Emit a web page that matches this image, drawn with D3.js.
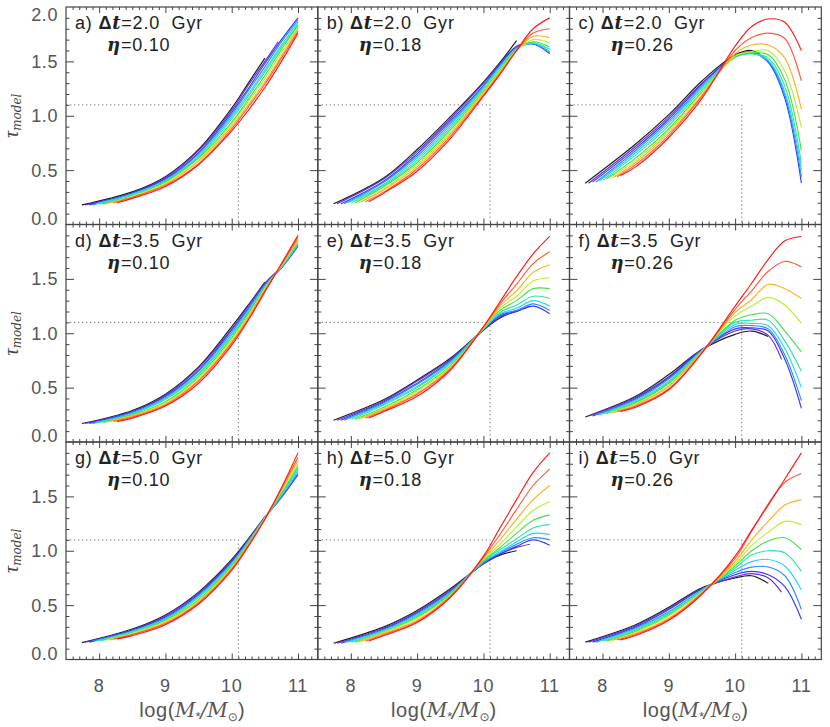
<!DOCTYPE html>
<html><head><meta charset="utf-8">
<script src="https://cdn.jsdelivr.net/npm/d3@7"></script>
<style>body{margin:0;background:#fff} svg{display:block}</style>
</head><body>
<svg id="c" width="830" height="727"></svg>
<script>
// grid of log(M*/Msun) values at which each curve is sampled (after its own start point)
const xGrid = [8.5, 9.0, 9.5, 10.0, 10.25, 10.5, 10.75, 11.0];
const startX = [7.74, 7.79, 7.85, 7.90, 7.95, 8.01, 8.06, 8.11, 8.16, 8.22, 8.27];
const endX = [10.5, 10.7, 11, 11, 11, 11, 11, 11, 11, 11, 11];
const colors = ['#1e1e1e', '#6a2bd0', '#3838ff', '#2f8cff', '#22d6f0', '#30e6a0',
                '#44e044', '#b8f030', '#ffb020', '#ff5a3c', '#ff1a1a'];
const panelLetters = ['a', 'b', 'c', 'd', 'e', 'f', 'g', 'h', 'i'];
const deltaT = ['2.0', '2.0', '2.0', '3.5', '3.5', '3.5', '5.0', '5.0', '5.0'];
const etaVals = ['0.10', '0.18', '0.26', '0.10', '0.18', '0.26', '0.10', '0.18', '0.26'];
const xTicks = [8, 9, 10, 11];
const yTicks = [0, 0.5, 1.0, 1.5, 2.0];

// each row: [y at start, y at 8.5, 9.0, 9.5, 10.0, 10.25, 10.5, 10.75, 11.0]
const panelA = [
 [0.18,0.30,0.44,0.69,1.07,1.30,1.53,null,null],
 [0.18,0.29,0.43,0.68,1.05,1.28,1.50,1.68,null],
 [0.18,0.29,0.42,0.66,1.03,1.25,1.48,1.70,1.90],
 [0.18,0.28,0.41,0.65,1.01,1.23,1.45,1.68,1.88],
 [0.19,0.28,0.40,0.63,0.99,1.20,1.42,1.65,1.86],
 [0.19,0.27,0.40,0.62,0.97,1.18,1.40,1.63,1.84],
 [0.19,0.26,0.39,0.61,0.94,1.15,1.37,1.61,1.83],
 [0.19,0.26,0.38,0.59,0.92,1.13,1.34,1.58,1.81],
 [0.20,0.25,0.37,0.58,0.90,1.10,1.31,1.55,1.80],
 [0.20,0.25,0.36,0.56,0.88,1.08,1.29,1.53,1.78],
 [0.20,0.24,0.35,0.55,0.86,1.05,1.26,1.50,1.76]];
const panelB = [
 [0.19,0.43,0.69,0.99,1.31,1.49,1.69,null,null],
 [0.19,0.42,0.67,0.97,1.30,1.48,1.64,1.67,null],
 [0.19,0.40,0.65,0.95,1.28,1.47,1.63,1.66,1.57],
 [0.19,0.39,0.63,0.93,1.27,1.46,1.62,1.66,1.58],
 [0.20,0.37,0.61,0.91,1.26,1.45,1.62,1.67,1.59],
 [0.20,0.36,0.59,0.89,1.25,1.44,1.61,1.67,1.61],
 [0.20,0.35,0.57,0.87,1.23,1.42,1.61,1.68,1.63],
 [0.20,0.33,0.55,0.85,1.22,1.41,1.60,1.70,1.67],
 [0.21,0.32,0.53,0.83,1.21,1.40,1.60,1.73,1.72],
 [0.21,0.30,0.51,0.81,1.19,1.39,1.60,1.76,1.80],
 [0.21,0.29,0.49,0.79,1.18,1.38,1.60,1.80,1.90]];
const panelC = [
 [0.38,0.74,1.01,1.32,1.56,1.60,1.50,null,null],
 [0.38,0.72,0.99,1.30,1.55,1.59,1.50,1.28,null],
 [0.39,0.70,0.97,1.29,1.55,1.58,1.49,1.16,0.38],
 [0.39,0.68,0.95,1.27,1.54,1.58,1.50,1.19,0.44],
 [0.40,0.66,0.93,1.26,1.54,1.57,1.51,1.22,0.50],
 [0.41,0.64,0.91,1.24,1.54,1.57,1.53,1.27,0.56],
 [0.42,0.61,0.88,1.22,1.54,1.58,1.56,1.33,0.68],
 [0.43,0.59,0.86,1.21,1.55,1.59,1.60,1.41,0.89],
 [0.43,0.57,0.84,1.19,1.57,1.65,1.65,1.53,1.06],
 [0.44,0.55,0.82,1.18,1.60,1.72,1.76,1.71,1.32],
 [0.45,0.53,0.80,1.16,1.64,1.82,1.89,1.86,1.60]];
const panelD = [
 [0.17,0.29,0.44,0.69,1.06,1.26,1.47,null,null],
 [0.17,0.28,0.43,0.68,1.04,1.25,1.46,1.58,null],
 [0.17,0.28,0.42,0.66,1.03,1.23,1.45,1.60,1.80],
 [0.17,0.27,0.41,0.65,1.01,1.22,1.44,1.60,1.81],
 [0.18,0.26,0.40,0.63,0.99,1.20,1.43,1.61,1.82],
 [0.18,0.26,0.39,0.62,0.98,1.19,1.43,1.61,1.83],
 [0.18,0.25,0.37,0.60,0.96,1.18,1.42,1.62,1.84],
 [0.18,0.24,0.36,0.59,0.94,1.16,1.41,1.62,1.85],
 [0.19,0.24,0.35,0.57,0.92,1.15,1.40,1.63,1.86],
 [0.19,0.23,0.34,0.56,0.91,1.13,1.39,1.63,1.88],
 [0.19,0.22,0.33,0.54,0.89,1.12,1.38,1.64,1.90]];
const panelE = [
 [0.20,0.39,0.57,0.77,1.03,1.14,1.21,null,null],
 [0.20,0.38,0.56,0.76,1.03,1.15,1.20,1.25,null],
 [0.20,0.37,0.54,0.75,1.03,1.16,1.20,1.25,1.18],
 [0.20,0.36,0.53,0.74,1.04,1.17,1.21,1.27,1.21],
 [0.21,0.35,0.51,0.73,1.04,1.18,1.23,1.30,1.25],
 [0.21,0.34,0.50,0.72,1.04,1.19,1.26,1.34,1.32],
 [0.21,0.32,0.48,0.70,1.05,1.21,1.30,1.41,1.41],
 [0.21,0.31,0.47,0.69,1.05,1.23,1.34,1.48,1.51],
 [0.22,0.30,0.45,0.68,1.05,1.25,1.39,1.56,1.63],
 [0.22,0.29,0.44,0.67,1.06,1.27,1.45,1.64,1.75],
 [0.22,0.28,0.42,0.66,1.06,1.29,1.52,1.73,1.89]];
const panelF = [
 [0.23,0.42,0.62,0.85,0.99,1.02,0.97,null,null],
 [0.24,0.41,0.60,0.85,1.02,1.04,0.98,0.76,null],
 [0.24,0.40,0.59,0.85,1.04,1.05,1.02,0.76,0.31],
 [0.25,0.39,0.58,0.84,1.06,1.07,1.04,0.80,0.38],
 [0.25,0.38,0.56,0.84,1.08,1.09,1.07,0.86,0.50],
 [0.26,0.37,0.55,0.84,1.10,1.12,1.12,0.93,0.65],
 [0.26,0.36,0.54,0.83,1.12,1.17,1.18,1.02,0.83],
 [0.27,0.35,0.52,0.83,1.16,1.25,1.33,1.26,1.09],
 [0.27,0.34,0.51,0.83,1.19,1.31,1.45,1.41,1.32],
 [0.28,0.33,0.49,0.82,1.22,1.39,1.57,1.66,1.61],
 [0.28,0.32,0.48,0.82,1.25,1.46,1.68,1.85,1.89]];
const panelG = [
 [0.155,0.28,0.41,0.62,0.92,1.11,1.31,null,null],
 [0.16,0.27,0.40,0.61,0.91,1.10,1.31,1.45,null],
 [0.16,0.27,0.39,0.60,0.90,1.10,1.31,1.49,1.70],
 [0.17,0.26,0.38,0.59,0.89,1.09,1.30,1.50,1.72],
 [0.17,0.26,0.37,0.58,0.88,1.08,1.30,1.51,1.74],
 [0.17,0.25,0.37,0.57,0.87,1.08,1.30,1.52,1.76],
 [0.18,0.24,0.36,0.55,0.86,1.07,1.30,1.53,1.78],
 [0.18,0.24,0.35,0.54,0.85,1.06,1.30,1.55,1.80],
 [0.18,0.23,0.34,0.53,0.84,1.06,1.29,1.56,1.83],
 [0.19,0.23,0.33,0.52,0.83,1.05,1.29,1.57,1.86],
 [0.19,0.22,0.32,0.51,0.82,1.04,1.29,1.58,1.90]];
const panelH = [
 [0.15,0.30,0.45,0.65,0.88,0.96,1.00,null,null],
 [0.15,0.29,0.44,0.64,0.88,0.97,1.03,1.06,null],
 [0.15,0.28,0.43,0.63,0.89,0.97,1.04,1.10,1.05],
 [0.16,0.27,0.42,0.62,0.89,0.98,1.06,1.12,1.10],
 [0.16,0.27,0.41,0.61,0.90,0.99,1.08,1.16,1.15],
 [0.16,0.26,0.40,0.61,0.91,1.01,1.11,1.21,1.24],
 [0.16,0.25,0.39,0.60,0.91,1.03,1.16,1.28,1.33],
 [0.16,0.25,0.38,0.59,0.92,1.06,1.22,1.37,1.45],
 [0.17,0.24,0.36,0.58,0.93,1.10,1.29,1.47,1.60],
 [0.17,0.23,0.35,0.58,0.94,1.15,1.38,1.60,1.75],
 [0.17,0.22,0.34,0.57,0.95,1.21,1.47,1.72,1.90]];
const panelI = [
 [0.16,0.32,0.48,0.66,0.75,0.77,0.70,null,null],
 [0.16,0.31,0.47,0.65,0.76,0.79,0.75,0.62,null],
 [0.16,0.30,0.46,0.65,0.78,0.81,0.78,0.67,0.37],
 [0.16,0.29,0.44,0.64,0.80,0.85,0.85,0.77,0.46],
 [0.17,0.28,0.43,0.64,0.82,0.90,0.92,0.86,0.64],
 [0.17,0.27,0.42,0.63,0.84,0.96,1.00,0.98,0.81],
 [0.17,0.26,0.41,0.62,0.86,1.00,1.09,1.12,1.01],
 [0.17,0.25,0.40,0.62,0.88,1.05,1.17,1.27,1.24],
 [0.18,0.24,0.38,0.61,0.90,1.10,1.27,1.42,1.47],
 [0.18,0.23,0.37,0.61,0.93,1.18,1.43,1.63,1.71],
 [0.18,0.22,0.36,0.60,0.95,1.19,1.42,1.66,1.90]];

const panels = [panelA, panelB, panelC, panelD, panelE, panelF, panelG, panelH, panelI];

const W = 251.9, H = 217.5;
const colLeft = [66, 317.7, 569.4];
const rowTop = [7, 224.5, 442];
const SANS = '"Liberation Sans", Arial, sans-serif';
const SERIF = '"DejaVu Serif", "Liberation Serif", serif';
const svg = d3.select('#c');

const minorX = d3.range(76, 113).filter(v => v % 10 !== 0).map(v => v / 10);
const minorY = d3.range(1, 20).filter(v => v % 5 !== 0).map(v => v / 10);
const majorYInner = [0.5, 1.0, 1.5];

function cleanAxis(sel) { sel.select('.domain').remove(); sel.selectAll('line').attr('stroke', '#444').attr('stroke-width', 1); }

panels.forEach((data, p) => {
  const r = Math.floor(p / 3), c = p % 3;
  const x = d3.scaleLinear().domain([7.5, 11.3]).range([colLeft[c], colLeft[c] + W]);
  const y = d3.scaleLinear().domain([0, 2]).range([rowTop[r] + H, rowTop[r]]);
  const g = svg.append('g');

  // dotted reference lines
  g.append('path')
    .attr('d', `M${x(7.5)},${y(1.1)}H${x(10.1)}V${y(0)}`)
    .attr('fill', 'none').attr('stroke', '#777').attr('stroke-width', 1)
    .attr('stroke-dasharray', '1.3,2.7');

  // curves
  const line = d3.line().x(d => x(d[0])).y(d => y(d[1])).curve(d3.curveCatmullRom.alpha(0.5));
  data.forEach((vals, k) => {
    const pts = [[startX[k], vals[0]]];
    xGrid.forEach((gx, i) => {
      const v = vals[i + 1];
      if (v !== null && v !== undefined) pts.push([Math.min(gx, endX[k]), v]);
    });
    g.append('path').attr('d', line(pts)).attr('fill', 'none')
      .attr('stroke', colors[k]).attr('stroke-width', 1.15);
  });

  // ticks on four sides (inward)
  const bottom = g.append('g').attr('transform', `translate(0,${y(0)})`);
  bottom.append('g').call(d3.axisBottom(x).tickValues(minorX).tickSize(-3).tickFormat('')).call(cleanAxis);
  bottom.append('g').call(d3.axisBottom(x).tickValues(xTicks).tickSize(-6).tickFormat('')).call(cleanAxis);
  const top = g.append('g').attr('transform', `translate(0,${y(2)})`);
  top.append('g').call(d3.axisTop(x).tickValues(minorX).tickSize(-3).tickFormat('')).call(cleanAxis);
  top.append('g').call(d3.axisTop(x).tickValues(xTicks).tickSize(-6).tickFormat('')).call(cleanAxis);
  const left = g.append('g').attr('transform', `translate(${x(7.5)},0)`);
  left.append('g').call(d3.axisLeft(y).tickValues(minorY).tickSize(-3.5).tickFormat('')).call(cleanAxis);
  left.append('g').call(d3.axisLeft(y).tickValues(majorYInner).tickSize(-8).tickFormat('')).call(cleanAxis);
  const right = g.append('g').attr('transform', `translate(${x(11.3)},0)`);
  right.append('g').call(d3.axisRight(y).tickValues(minorY).tickSize(-3.5).tickFormat('')).call(cleanAxis);
  right.append('g').call(d3.axisRight(y).tickValues(majorYInner).tickSize(-8).tickFormat('')).call(cleanAxis);

  // frame
  g.append('rect').attr('x', x(7.5)).attr('y', y(2)).attr('width', x(11.3) - x(7.5)).attr('height', y(0) - y(2))
    .attr('fill', 'none').attr('stroke', '#444').attr('stroke-width', 1.2);

  // y tick labels (left column)
  if (c === 0) {
    yTicks.filter(v => r === 0 || v < 2).forEach(v => {
      const off = v === 0 ? -6 : (v === 2 ? 8 : 0);
      g.append('text').attr('x', x(7.5) - 8).attr('y', y(v) + off).attr('dy', '0.36em')
        .attr('text-anchor', 'end').attr('font-family', SANS).attr('font-size', 18)
        .attr('letter-spacing', 0.6).attr('fill', '#555').text(d3.format('.1f')(v));
    });
  }
  // x tick labels (bottom row)
  if (r === 2) {
    xTicks.forEach(v => {
      g.append('text').attr('x', x(v)).attr('y', y(0) + 32).attr('text-anchor', 'middle')
        .attr('font-family', SANS).attr('font-size', 18).attr('letter-spacing', 0.6)
        .attr('fill', '#555').text(v);
    });
    const t = g.append('text').attr('x', (x(7.5) + x(11.3)) / 2).attr('y', 717)
      .attr('text-anchor', 'middle').attr('font-family', SANS).attr('font-size', 20).attr('fill', '#555');
    t.append('tspan').attr('letter-spacing', 0.6).text('log(');
    t.append('tspan').attr('font-family', SERIF).attr('font-style', 'italic').text('M');
    t.append('tspan').attr('font-size', 13).attr('dy', 4).text('*');
    t.append('tspan').attr('font-family', SERIF).attr('font-style', 'italic').attr('dy', -4).text('/');
    t.append('tspan').attr('font-family', SERIF).attr('font-style', 'italic').text('M');
    t.append('tspan').attr('font-family', '"DejaVu Sans", sans-serif').attr('font-size', 12).attr('dy', 4).text('⊙');
    t.append('tspan').attr('dy', -4).text(')');
  }
  // y title (each row)
  if (c === 0) {
    const cy = (y(0) + y(2)) / 2;
    const t = g.append('text').attr('transform', `translate(18,${cy}) rotate(-90)`)
      .attr('text-anchor', 'middle').attr('fill', '#444');
    t.append('tspan').attr('font-family', '"Liberation Serif", serif').attr('font-style', 'italic')
      .attr('font-size', 20).text('τ');
    t.append('tspan').attr('font-family', SERIF).attr('font-style', 'italic').attr('font-size', 12)
      .attr('dy', 3).text('model');
  }

  // panel annotation
  const a1 = g.append('text').attr('x', x(7.5) + 9).attr('y', y(2) + 22)
    .attr('font-family', SANS).attr('font-size', 18).attr('fill', '#222')
    .attr('letter-spacing', 0.8).style('white-space', 'pre');
  a1.append('tspan').text(panelLetters[p] + ') ');
  a1.append('tspan').attr('font-weight', 'bold').text('Δ');
  a1.append('tspan').attr('font-family', SERIF).attr('font-style', 'italic').attr('font-weight', 'bold').text('t');
  a1.append('tspan').text('=' + deltaT[p] + '  Gyr');
  const a2 = g.append('text').attr('x', x(7.5) + 41).attr('y', y(2) + 44)
    .attr('font-family', SANS).attr('font-size', 18).attr('fill', '#222').attr('letter-spacing', 0.8);
  a2.append('tspan').attr('font-family', SERIF).attr('font-style', 'italic').attr('font-weight', 'bold').text('η');
  a2.append('tspan').text('=' + etaVals[p]);
});
</script>
</body></html>
